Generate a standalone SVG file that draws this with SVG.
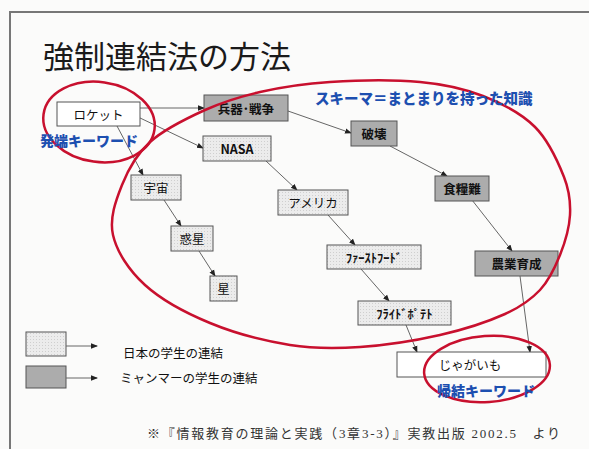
<svg xmlns="http://www.w3.org/2000/svg" width="589" height="449" viewBox="0 0 589 449">
<defs>
<marker id="ah" markerWidth="7" markerHeight="7" refX="6" refY="3.5" orient="auto" markerUnits="userSpaceOnUse">
<path d="M0,0.8 L7,3.5 L0,6.2 z" fill="#222"/>
</marker>
<pattern id="dots" width="3" height="3" patternUnits="userSpaceOnUse">
<rect width="3" height="3" fill="#ececec"/>
<rect x="0" y="0" width="1" height="1" fill="#cfcfcf"/>
</pattern>
</defs>
<style>
.lt{fill:url(#dots);stroke:#555;stroke-width:1}
.dk{fill:#acacac;stroke:#555;stroke-width:1}
.wt{fill:#fff;stroke:#555;stroke-width:1}
.t{font-family:"Noto Sans CJK JP","Liberation Sans",sans-serif;font-size:12.5px;fill:#111;text-anchor:middle;dominant-baseline:central}
.b{font-weight:bold}
.blue{font-family:"Noto Sans CJK JP",sans-serif;font-weight:900;fill:#1d4fb0;dominant-baseline:central}
.c{stroke:#666;stroke-width:1;fill:none;marker-end:url(#ah)}
.red{fill:none;stroke:#c8102e;stroke-width:2.5}
</style>
<rect width="589" height="449" fill="#fbfbfa"/>
<path d="M10,449 L10,12 L589,12" fill="none" stroke="#777" stroke-width="2"/>
<text x="43" y="68" font-family="Noto Sans CJK JP,sans-serif" font-size="31" fill="#1a1a1a">強制連結法の方法</text>

<g id="connectors">
<line class="c" x1="140" y1="108" x2="204" y2="108"/>
<line class="c" x1="138" y1="117" x2="203" y2="148"/>
<line class="c" x1="117" y1="126" x2="143" y2="175"/>
<line class="c" x1="164" y1="200" x2="181" y2="226"/>
<line class="c" x1="199" y1="251" x2="215" y2="276"/>
<line class="c" x1="266" y1="161" x2="297" y2="190"/>
<line class="c" x1="328" y1="215" x2="355" y2="245"/>
<line class="c" x1="361" y1="269" x2="389" y2="301"/>
<line class="c" x1="288" y1="111" x2="351" y2="133"/>
<line class="c" x1="390" y1="146" x2="447" y2="176"/>
<line class="c" x1="472" y1="200" x2="512" y2="251"/>
<line class="c" x1="406" y1="325" x2="417" y2="352"/>
<line class="c" x1="520" y1="276" x2="530" y2="352"/>
</g>

<g id="n-rocket"><rect class="wt" x="57" y="102" width="83" height="24"/><text class="t" x="98.5" y="114">ロケット</text></g>
<g id="n-heiki"><rect class="dk" x="204" y="95" width="84" height="26"/><text class="t b" x="246" y="108">兵器･戦争</text></g>
<g id="n-nasa"><rect class="lt" x="203" y="136" width="68" height="25"/><text class="t b" x="237" y="148.5" font-family="Liberation Sans,sans-serif" font-size="13">NASA</text></g>
<g id="n-hakai"><rect class="dk" x="351" y="121" width="46" height="25"/><text class="t b" x="374" y="133.5">破壊</text></g>
<g id="n-shokuryo"><rect class="dk" x="435" y="176" width="54" height="25"/><text class="t b" x="462" y="188.5">食糧難</text></g>
<g id="n-nogyo"><rect class="dk" x="475" y="251" width="83" height="25"/><text class="t b" x="516.5" y="263.5">農業育成</text></g>
<g id="n-uchu"><rect class="lt" x="131" y="175" width="50" height="25"/><text class="t" x="156" y="187.5">宇宙</text></g>
<g id="n-wakusei"><rect class="lt" x="171" y="226" width="42" height="25"/><text class="t" x="192" y="238.5">惑星</text></g>
<g id="n-hoshi"><rect class="lt" x="210" y="276" width="27" height="25"/><text class="t" x="223.5" y="288.5">星</text></g>
<g id="n-america"><rect class="lt" x="278" y="190" width="70" height="25"/><text class="t" x="313" y="202.5">アメリカ</text></g>
<g id="n-fastfood"><rect class="lt" x="327" y="245" width="94" height="24"/><text class="t b" x="374" y="257">ﾌｧｰｽﾄﾌｰﾄﾞ</text></g>
<g id="n-fries"><rect class="lt" x="358" y="301" width="93" height="24"/><text class="t b" x="404.5" y="313">ﾌﾗｲﾄﾞﾎﾟﾃﾄ</text></g>
<g id="n-potato"><rect class="wt" x="397" y="352" width="149" height="25"/><text class="t" x="470" y="364.5" font-size="13">じゃがいも</text></g>

<path class="red" d="M113,235 C109.2,218.3 115.8,200.5 122,185 C128.2,169.5 136.2,154.5 150,142 C163.8,129.5 186.7,118.3 205,110 C223.3,101.7 239.2,96.7 260,92 C280.8,87.3 303.3,83.7 330,82 C356.7,80.3 394.5,79.7 420,82 C445.5,84.3 463.8,88.5 483,96 C502.2,103.5 521.5,113.5 535,127 C548.5,140.5 558.2,162.3 564,177 C569.8,191.7 570.7,202 570,215 C569.3,228 565,242.5 560,255 C555,267.5 549.2,280.2 540,290 C530.8,299.8 521.7,306.5 505,314 C488.3,321.5 464.2,329.5 440,335 C415.8,340.5 385,345.3 360,347 C335,348.7 315,349 290,345 C265,341 234.2,333 210,323 C185.8,313 161.2,299.7 145,285 C128.8,270.3 116.8,251.7 113,235 Z"/>
<ellipse class="red" cx="99" cy="122" rx="56" ry="40" transform="rotate(8 99 122)"/>
<ellipse class="red" cx="487" cy="369" rx="63" ry="33" transform="rotate(-4 487 369)"/>

<text class="blue" x="315" y="97" font-size="14.5">スキーマ＝まとまりを持った知識</text>
<text class="blue" x="40" y="140" font-size="14">発端キーワード</text>
<text class="blue" x="437" y="390" font-size="14">帰結キーワード</text>

<g id="legend">
<rect class="lt" x="26" y="332" width="40" height="24"/>
<rect class="dk" x="26" y="366" width="40" height="22"/>
<line class="c" x1="66" y1="346" x2="97" y2="346"/>
<line class="c" x1="66" y1="378" x2="97" y2="378"/>
<text class="t" x="123" y="352" style="text-anchor:start" font-size="13">日本の学生の連結</text>
<text class="t" x="120" y="377" style="text-anchor:start" font-size="13">ミャンマーの学生の連結</text>
</g>
<text x="147" y="438" font-family="Liberation Serif,Noto Sans CJK JP,serif" font-size="13" fill="#333" textLength="413" lengthAdjust="spacing">※『情報教育の理論と実践（3章3-3）』実教出版 2002.5　より</text>
</svg>
